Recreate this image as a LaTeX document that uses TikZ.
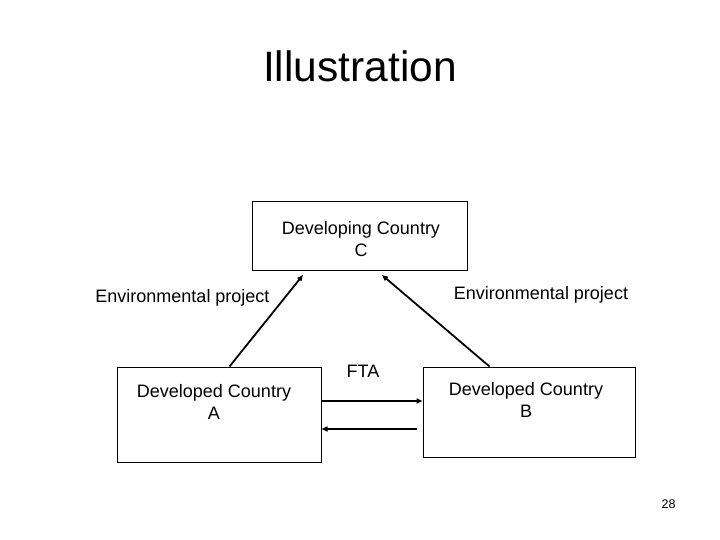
\documentclass[tikz,border=0pt]{standalone}
\usepackage{fontspec}
\setmainfont{Liberation Sans}
\usetikzlibrary{arrows.meta,calc}
\tikzset{
  box/.style={draw=black, line width=1pt, fill=white, inner sep=0pt},
  lbl/.style={font=\fontsize{18}{21.5}\selectfont, inner sep=0pt, align=center},
  conn/.style={draw=black, line width=1.8pt, -{Triangle[length=6pt,width=5pt]}},
}
\begin{document}
\begin{tikzpicture}[x=1pt,y=-1pt]
\useasboundingbox[fill=white] (0,0) rectangle (720,540);
\node[font=\fontsize{42.5}{50}\selectfont, inner sep=0pt, anchor=base] (title) at (360,82) {Illustration};
\node[box, minimum width=215pt, minimum height=68pt] (C) at (359.5,236) {};
\node[box, minimum width=204pt, minimum height=95pt] (A) at (219,414.5) {};
\node[box, minimum width=212pt, minimum height=90pt] (B) at (529,412) {};
\node[lbl] (Ct) at (361,239) {Developing Country\\C};
\node[lbl] (At) at (214,402) {Developed Country\\A};
\node[lbl] (Bt) at (526,400) {Developed Country\\B};
\node[lbl, anchor=base] (envL) at (182.5,302) {Environmental project};
\node[lbl, anchor=base] (envR) at (541,299) {Environmental project};
\node[lbl, anchor=base] (fta) at (363,377) {FTA};
\node[font=\fontsize{12.5}{15}\selectfont, inner sep=0pt, anchor=base] (pg) at (668.5,508) {28};
\coordinate (cL) at (303,275);
\coordinate (cR) at (382,275);
\coordinate (ftay) at (0,401);
\coordinate (ret) at (417,429);
\draw[conn] ($(A.north west)+(113,0)$) -- (cL);
\draw[conn] ($(B.north west)+(67,0)$) -- (cR);
\draw[conn] (A.east |- ftay) -- (B.west |- ftay);
\draw[conn] (ret) -- (A.east |- ret);
\end{tikzpicture}
\end{document}
